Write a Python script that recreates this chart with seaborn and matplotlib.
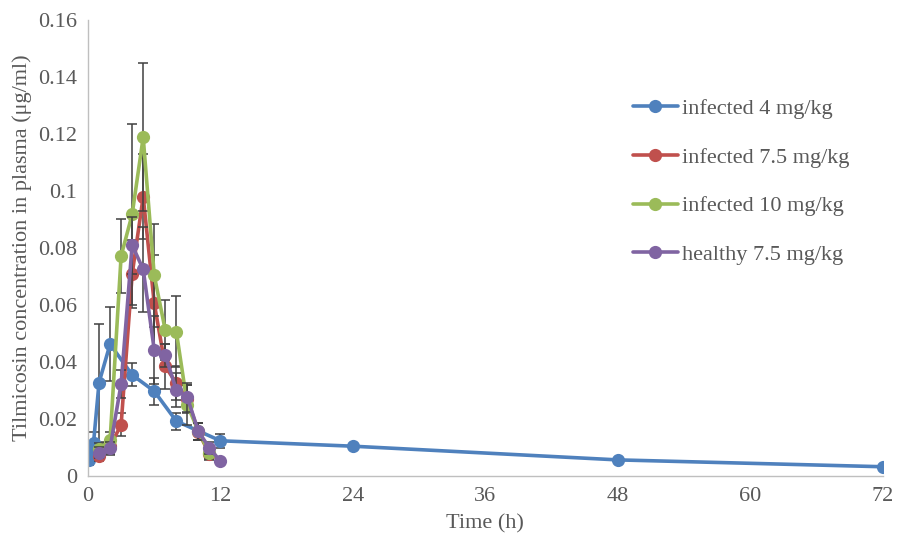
import matplotlib
matplotlib.use("Agg")
import matplotlib.pyplot as plt
import seaborn as sns
import pandas as pd
import numpy as np

# ---- data ----
blue_t = [0.083, 0.25, 0.5, 1, 2, 4, 6, 8, 12, 24, 48, 72]
blue_v = [0.0055, 0.0093, 0.0116, 0.0328, 0.0463, 0.0355, 0.0298, 0.0193, 0.0124, 0.0105, 0.0057, 0.0033]
blue_e = [0.0015, 0.002, 0.004, 0.0207, 0.013, 0.004, 0.0047, 0.003, 0.0025, 0.0008, 0.0005, 0.0003]

red_t = [1, 2, 3, 4, 5, 6, 7, 8, 9, 10, 11]
red_v = [0.0072, 0.0105, 0.018, 0.0708, 0.098, 0.0606, 0.0385, 0.0326, 0.027, 0.0155, 0.0078]
red_e = [0.002, 0.003, 0.004, 0.012, 0.015, 0.017, 0.008, 0.006, 0.005, 0.003, 0.002]

green_t = [1, 2, 3, 4, 5, 6, 7, 8, 9, 10, 11]
green_v = [0.0095, 0.0125, 0.0772, 0.0918, 0.1188, 0.0704, 0.0512, 0.0507, 0.025, 0.0157, 0.0081]
green_e = [0.002, 0.003, 0.013, 0.0317, 0.026, 0.018, 0.0105, 0.0125, 0.007, 0.003, 0.002]

purple_t = [1, 2, 3, 4, 5, 6, 7, 8, 9, 10, 11, 12]
purple_v = [0.0082, 0.0099, 0.0323, 0.081, 0.0725, 0.0443, 0.0424, 0.0303, 0.0276, 0.0157, 0.0099, 0.0052]
purple_e = [0.002, 0.002, 0.005, 0.01, 0.015, 0.012, 0.004, 0.006, 0.005, 0.003, 0.002, 0.001]

labels = ["infected 4 mg/kg", "infected 7.5 mg/kg", "infected 10 mg/kg", "healthy 7.5 mg/kg"]
colors = ["#4F81BD", "#C0504D", "#9BBB59", "#8064A2"]
x_ticks = [0, 12, 24, 36, 48, 60, 72]
y_ticks = [0, 0.02, 0.04, 0.06, 0.08, 0.10, 0.12, 0.14, 0.16]
y_tick_labels = ["0", "0.02", "0.04", "0.06", "0.08", "0.1", "0.12", "0.14", "0.16"]

series = [(blue_t, blue_v, blue_e), (red_t, red_v, red_e),
          (green_t, green_v, green_e), (purple_t, purple_v, purple_e)]

frames = []
for lab, (t, v, e) in zip(labels, series):
    frames.append(pd.DataFrame({"time": t, "conc": v, "sd": e, "group": lab}))
df = pd.concat(frames, ignore_index=True)

sns.set_style("white")
plt.rcParams["font.family"] = ["Liberation Serif", "DejaVu Serif"]
text_col = "#595959"
axis_col = "#BFBFBF"

fig = plt.figure(figsize=(8.98, 5.35), dpi=100)
ax = fig.add_axes([0.098, 0.110, 0.885, 0.853])

for i, (lab, col) in enumerate(zip(labels, colors)):
    sub = df[df["group"] == lab]
    ax.errorbar(sub["time"], sub["conc"], yerr=sub["sd"], fmt="none",
                ecolor="#404040", elinewidth=1.1, capsize=3.5, capthick=1.1,
                zorder=1 + i * 2)
    sns.lineplot(data=sub, x="time", y="conc", ax=ax, color=col,
                 marker="o", markersize=9.5, markeredgewidth=0, linewidth=2.6,
                 label=lab, zorder=2 + i * 2, sort=False, errorbar=None)

ax.set_xlim(0, 72)
ax.set_ylim(0, 0.16)
ax.set_xticks(x_ticks)
ax.set_yticks(y_ticks)
ax.set_yticklabels(y_tick_labels)

for s in ["top", "right"]:
    ax.spines[s].set_visible(False)
for s in ["left", "bottom"]:
    ax.spines[s].set_color(axis_col)
    ax.spines[s].set_linewidth(1.0)
ax.tick_params(axis="both", which="both", direction="out", length=5, width=1.0,
               color=axis_col, labelcolor=text_col, labelsize=16, pad=3)

ax.set_xlabel("Time (h)", fontsize=16, color=text_col, labelpad=6)
ax.set_ylabel("Tilmicosin concentration in plasma (\u03bcg/ml)", fontsize=16,
              color=text_col, labelpad=4)

leg = ax.legend(loc="upper left", bbox_to_anchor=(0.686, 0.828), frameon=False,
                fontsize=16, labelspacing=1.27, handlelength=2.0,
                handletextpad=0.2, borderaxespad=0, borderpad=0)
for t in leg.get_texts():
    t.set_color(text_col)

fig.savefig("out.png", dpi=100)
